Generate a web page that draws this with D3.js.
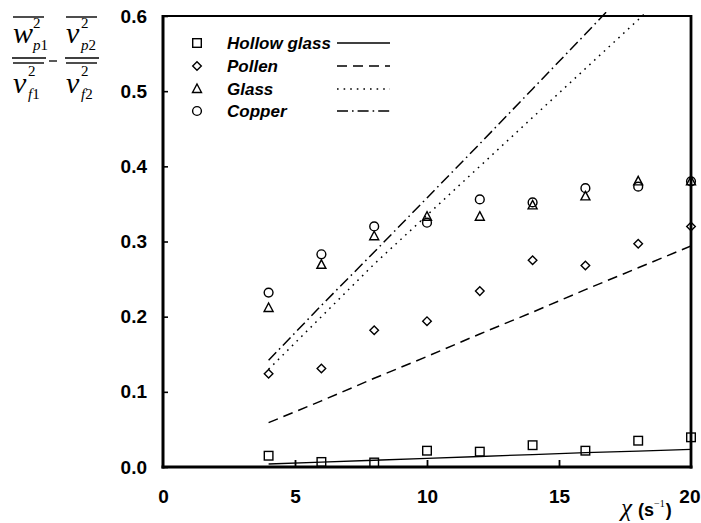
<!DOCTYPE html>
<html><head><meta charset="utf-8">
<script src="https://cdn.jsdelivr.net/npm/d3@7"></script>
<style>body{margin:0;background:#fff}svg{display:block}</style>
</head><body>
<svg id="c" width="701" height="523"></svg>
<script>
const xs = [4, 6, 8, 10, 12, 14, 16, 18, 20];
const hollowPts = [0.015, 0.0067, 0.006, 0.0217, 0.0204, 0.029, 0.0217, 0.035, 0.0395];
const pollenPts = [0.124, 0.131, 0.182, 0.194, 0.234, 0.275, 0.268, 0.297, 0.32];
const glassPts  = [0.2115, 0.269, 0.307, 0.333, 0.333, 0.348, 0.36, 0.38, 0.38];
const copperPts = [0.232, 0.283, 0.32, 0.325, 0.356, 0.352, 0.371, 0.373, 0.38];
const hollowLine = [0.004, 0.0065, 0.009, 0.0115, 0.014, 0.0165, 0.019, 0.021, 0.0235];
const pollenLine = [0.059, 0.088, 0.118, 0.147, 0.177, 0.206, 0.236, 0.265, 0.294];
const glassLine  = [0.13, 0.2, 0.27, 0.335, 0.40, 0.465, 0.53, 0.595, 0.66];
const copperLine = [0.142, 0.215, 0.286, 0.358, 0.43, 0.503, 0.576, 0.65, 0.72];
const xTicks = [0, 5, 10, 15, 20];
const yTicks = [0.0, 0.1, 0.2, 0.3, 0.4, 0.5, 0.6];
const seriesNames = ["Hollow glass", "Pollen", "Glass", "Copper"];

const svg = d3.select("#c");
const L = 163, R = 691, T = 16, B = 467;
const x = d3.scaleLinear().domain([0, 20]).range([L, R]);
const y = d3.scaleLinear().domain([0, 0.6]).range([B, T]);

const dashes = ["none", "10,6", "1.6,5", "11,4,1.6,4"];
const shapes = ["square", "diamond", "triangle", "circle"];
const pts = [hollowPts, pollenPts, glassPts, copperPts];
const lines = [hollowLine, pollenLine, glassLine, copperLine];

svg.append("defs").append("clipPath").attr("id", "clip")
  .append("rect").attr("x", L).attr("y", T - 4).attr("width", R - L).attr("height", B - T + 4);

const lg = d3.line().x(d => x(d[0])).y(d => y(d[1]));
lines.forEach((ln, i) => {
  svg.append("path").attr("clip-path", "url(#clip)")
    .attr("d", lg(xs.map((v, j) => [v, ln[j]])))
    .attr("fill", "none").attr("stroke", "#000").attr("stroke-width", i === 0 ? 1.3 : 1.5)
    .attr("stroke-dasharray", dashes[i]);
});

function marker(g, shape, cx, cy) {
  const s = 4.3;
  let el;
  if (shape === "square") el = g.append("rect").attr("x", cx - s).attr("y", cy - s).attr("width", 2 * s).attr("height", 2 * s);
  else if (shape === "diamond") el = g.append("path").attr("d", `M${cx},${cy - s}L${cx + s},${cy}L${cx},${cy + s}L${cx - s},${cy}Z`);
  else if (shape === "triangle") el = g.append("path").attr("d", `M${cx},${cy - 5}L${cx + 4.5},${cy + 3.5}L${cx - 4.5},${cy + 3.5}Z`);
  else el = g.append("circle").attr("cx", cx).attr("cy", cy).attr("r", 4.4);
  el.attr("fill", "none").attr("stroke", "#000").attr("stroke-width", 1.4);
}

svg.append("line").attr("x1", L).attr("x2", R).attr("y1", T).attr("y2", T).attr("stroke", "#000").attr("stroke-width", 2.2);
svg.append("line").attr("x1", R).attr("x2", R).attr("y1", T - 1).attr("y2", B + 1.5).attr("stroke", "#000").attr("stroke-width", 2.8);

const yAxis = d3.axisLeft(y).tickValues(yTicks).tickFormat(d3.format(".1f")).tickSizeInner(-5).tickSizeOuter(0).tickPadding(16);
const ya = svg.append("g").attr("transform", `translate(${L},0)`).call(yAxis);
ya.select(".domain").attr("stroke-width", 3).attr("d", `M0,${T - 1}V${B + 1.5}`);
ya.selectAll(".tick line").attr("stroke-width", 1.6);
ya.selectAll(".tick text").attr("font-family", "Liberation Sans, Arial, sans-serif").attr("font-weight", "bold").attr("font-size", 19).attr("fill", "#000");

const xAxis = d3.axisBottom(x).tickValues(xTicks).tickSizeInner(-7).tickSizeOuter(0).tickPadding(23);
const xa = svg.append("g").attr("transform", `translate(0,${B})`).call(xAxis);
xa.select(".domain").attr("stroke-width", 3).attr("d", `M${L - 1.5},0H${R + 1.5}`);
xa.selectAll(".tick line").attr("stroke-width", 1.8).filter(d => d === 0 || d === 20).remove();
xa.selectAll(".tick text").attr("font-family", "Liberation Sans, Arial, sans-serif").attr("font-weight", "bold").attr("font-size", 19).attr("fill", "#000");
xa.selectAll(".tick").filter(d => d === 20).select("text").attr("text-anchor", "end").attr("dx", 9);

const pg = svg.append("g");
pts.forEach((arr, i) => arr.forEach((v, j) => marker(pg, shapes[i], x(xs[j]), y(v))));

const legY = [43, 66, 89, 111];
seriesNames.forEach((n, i) => {
  const cy = legY[i];
  marker(svg, shapes[i], 197, cy);
  svg.append("text").attr("x", 227).attr("y", cy + 6).text(n)
    .attr("font-family", "Liberation Sans, Arial, sans-serif").attr("font-weight", "bold").attr("font-style", "italic")
    .attr("font-size", 17).attr("fill", "#000");
  svg.append("line").attr("x1", 337).attr("x2", 390).attr("y1", cy).attr("y2", cy)
    .attr("stroke", "#000").attr("stroke-width", 1.4).attr("stroke-dasharray", dashes[i]);
});

const xl = svg.append("text").attr("x", 621).attr("y", 516).attr("fill", "#000");
xl.append("tspan").text("χ").attr("font-family", "Liberation Serif, serif").attr("font-style", "italic").attr("font-size", 25);
xl.append("tspan").text("(s").attr("dx", 6).attr("font-family", "Liberation Sans, Arial, sans-serif").attr("font-weight", "bold").attr("font-size", 18);
xl.append("tspan").text("−1").attr("dy", -9).attr("font-family", "Liberation Serif, serif").attr("font-size", 10);
xl.append("tspan").text(")").attr("dy", 9).attr("dx", 1).attr("font-family", "Liberation Sans, Arial, sans-serif").attr("font-weight", "bold").attr("font-size", 18);

const serif = "Liberation Serif, Times New Roman, serif";
function txt(xx, yy, s, size, italic) {
  return svg.append("text").attr("x", xx).attr("y", yy).text(s).attr("fill", "#000")
    .attr("font-family", serif).attr("font-size", size).attr("font-style", italic ? "italic" : "normal");
}
function term(x0, mainChar, off, sub) {
  txt(x0, 43, mainChar, 30, true);
  txt(x0 + off, 28, "2", 15, false);
  const s1 = txt(x0 + off, 50, "", 15, false);
  s1.append("tspan").text(sub[0]).attr("font-style", "italic");
  s1.append("tspan").text(sub[1]);
  txt(x0, 93, "v", 30, true);
  txt(x0 + 15, 76, "2", 15, false);
  const s2 = txt(x0 + 15, 99, "", 15, false);
  s2.append("tspan").text(sub[2]).attr("font-style", "italic");
  s2.append("tspan").text(sub[3]);
  const ln = (x1, x2, yy) => svg.append("line").attr("x1", x1).attr("x2", x2).attr("y1", yy).attr("y2", yy).attr("stroke", "#000").attr("stroke-width", 1.4);
  ln(x0, x0 + 31, 17);
  ln(x0 - 1, x0 + 33, 58);
  ln(x0, x0 + 31, 63);
}
term(13, "w", 20, ["p", "1", "f", "1"]);
term(66, "v", 15, ["p", "2", "f", "2"]);
svg.append("line").attr("x1", 49).attr("x2", 57).attr("y1", 61).attr("y2", 61).attr("stroke", "#000").attr("stroke-width", 1.3);
</script>
</body></html>
